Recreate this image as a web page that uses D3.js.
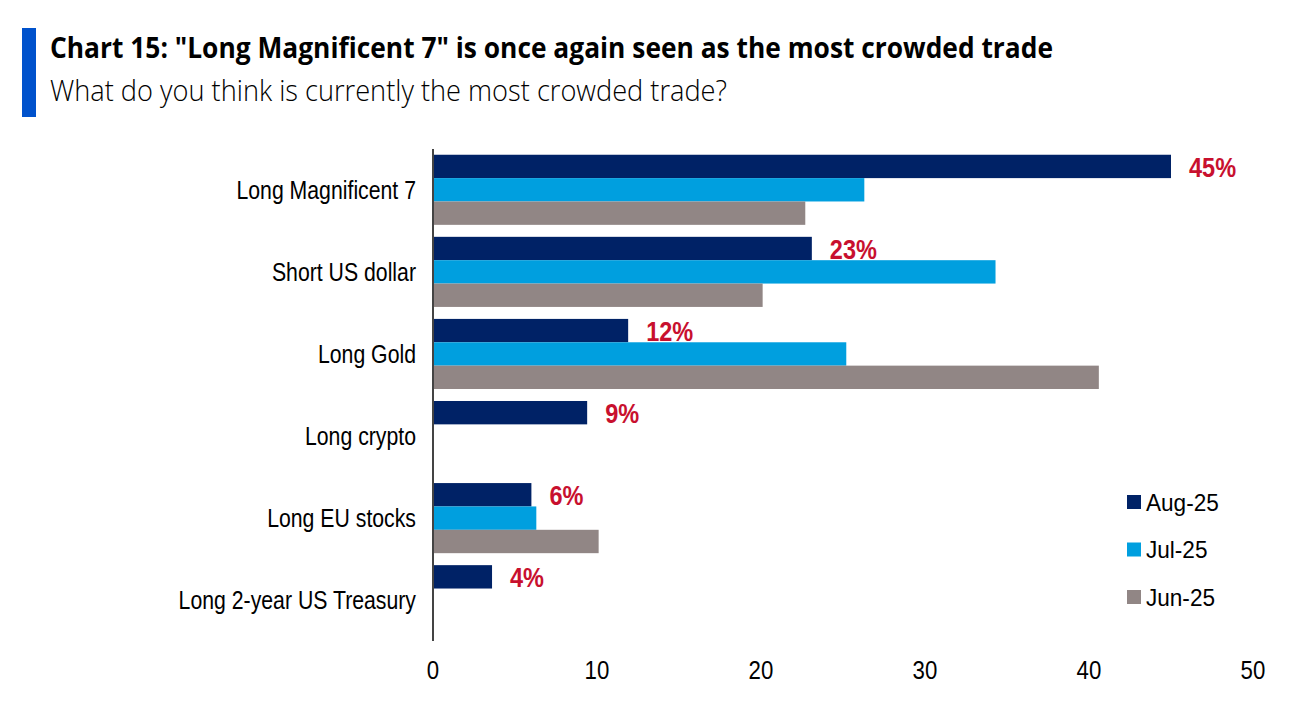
<!DOCTYPE html>
<html>
<head>
<meta charset="utf-8">
<script src="https://cdn.jsdelivr.net/npm/d3@7"></script>
<style>
  body { margin: 0; background: #fff; }
  .lbl { font-family: "Liberation Sans Narrow", "Arial Narrow", "Liberation Sans", Arial, sans-serif; }
</style>
</head>
<body>
<div class="sandbox"></div>
<script>
// data
var categories = ["Long Magnificent 7", "Short US dollar", "Long Gold", "Long crypto", "Long EU stocks", "Long 2-year US Treasury"];
var aug25 = [45, 23.1, 11.9, 9.4, 6.0, 3.6];
var jul25 = [26.3, 34.3, 25.2, null, 6.3, null];
var jun25 = [22.7, 20.1, 40.6, null, 10.1, null];
var seriesNames = ["Aug-25", "Jul-25", "Jun-25"];
var seriesColors = ["#002266", "#009FDF", "#918685"];
var xTicks = [0, 10, 20, 30, 40, 50];

var w = 1305, h = 718;
var svg = d3.select(".sandbox").append("svg")
  .attr("width", w)
  .attr("height", h);

// the reference uses a narrow face; squeeze the regular one to the same width
let squeeze = (sel, k) => {
  sel.each(function() {
    var len = this.getComputedTextLength();
    d3.select(this).attr("textLength", len * k).attr("lengthAdjust", "spacingAndGlyphs");
  });
};

// header
svg.append("rect").attr("x", 22).attr("y", 28).attr("width", 14).attr("height", 89).attr("fill", "#0052CC");
svg.append("text")
  .attr("x", 50).attr("y", 58)
  .attr("font-family", "'Open Sans', 'Noto Sans', sans-serif")
  .attr("font-weight", 700)
  .attr("font-size", 29)
  .attr("textLength", 1003)
  .attr("lengthAdjust", "spacingAndGlyphs")
  .attr("fill", "#000")
  .text('Chart 15: "Long Magnificent 7" is once again seen as the most crowded trade');
svg.append("text")
  .attr("x", 50).attr("y", 101)
  .attr("font-family", "'Open Sans', 'Noto Sans', sans-serif")
  .attr("font-weight", 300)
  .attr("font-size", 29)
  .attr("textLength", 677)
  .attr("lengthAdjust", "spacingAndGlyphs")
  .attr("fill", "#000")
  .text("What do you think is currently the most crowded trade?");

var x = d3.scaleLinear().domain([0, 50]).range([433, 1253]);
var y = d3.scaleBand().domain(categories).range([149, 641]).paddingInner(0.146).paddingOuter(0.07);
var ys = d3.scaleBand().domain(seriesNames).range([0, y.bandwidth()]);

var rows = categories.map(function(c, i) {
  return { cat: c, vals: [aug25[i], jul25[i], jun25[i]] };
});

var g = svg.selectAll("g.row")
  .data(rows)
  .enter()
  .append("g")
  .attr("class", "row")
  .attr("transform", d => "translate(0," + y(d.cat) + ")");

g.selectAll("rect")
  .data(d => d.vals.map((v, j) => ({ v: v, s: seriesNames[j], c: seriesColors[j] })).filter(e => e.v != null))
  .enter()
  .append("rect")
  .attr("x", x(0))
  .attr("y", e => ys(e.s))
  .attr("width", e => x(e.v) - x(0))
  .attr("height", ys.bandwidth())
  .attr("fill", e => e.c);

// value labels on Aug-25 bars
var vl = g.append("text")
  .attr("class", "lbl")
  .attr("x", d => x(d.vals[0]) + 18)
  .attr("y", ys("Aug-25") + ys.bandwidth() / 2)
  .attr("dy", "0.36em")
  .attr("font-size", 28)
  .attr("font-weight", 700)
  .attr("fill", "#C8102E")
  .text(d => Math.round(d.vals[0]) + "%");
squeeze(vl, 0.84);

// category labels
var cl = g.append("text")
  .attr("class", "lbl")
  .attr("x", 416)
  .attr("y", y.bandwidth() / 2)
  .attr("dy", "0.36em")
  .attr("text-anchor", "end")
  .attr("font-size", 25)
  .attr("fill", "#000")
  .text(d => d.cat);
squeeze(cl, 0.85);

// axis line
svg.append("line")
  .attr("x1", x(0)).attr("x2", x(0))
  .attr("y1", 149).attr("y2", 641)
  .attr("stroke", "#444")
  .attr("stroke-width", 2);

// x tick labels
var tl = svg.selectAll("text.tick")
  .data(xTicks)
  .enter()
  .append("text")
  .attr("class", "lbl tick")
  .attr("x", d => x(d))
  .attr("y", 679)
  .attr("text-anchor", "middle")
  .attr("font-size", 25)
  .attr("fill", "#000")
  .text(d => d);
squeeze(tl, 0.89);

// legend
var lg = svg.selectAll("g.leg")
  .data(seriesNames)
  .enter()
  .append("g")
  .attr("class", "leg")
  .attr("transform", (d, i) => "translate(1127," + (502 + i * 47.5) + ")");
lg.append("rect")
  .attr("x", 0).attr("y", -7)
  .attr("width", 14).attr("height", 14)
  .attr("fill", (d, i) => seriesColors[i]);
var lt = lg.append("text")
  .attr("class", "lbl")
  .attr("x", 19)
  .attr("y", 0)
  .attr("dy", "0.36em")
  .attr("font-size", 24)
  .attr("fill", "#000")
  .text(d => d);
squeeze(lt, 0.94);
</script>
</body>
</html>
